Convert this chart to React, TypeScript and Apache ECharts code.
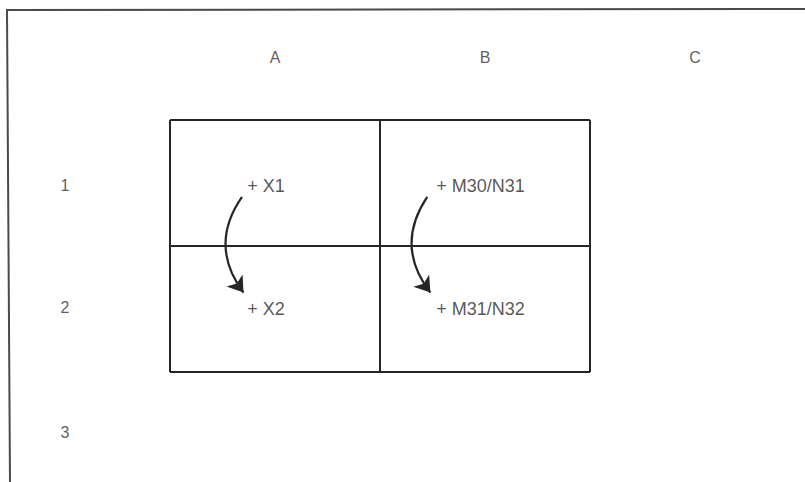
import React, { useEffect, useRef } from "react";
import * as echarts from "echarts";

// Column headers and row headers of the spreadsheet diagram
const columnLabels = ["A", "B", "C"];
const columnPositions = [0.5, 1.5, 2.5];
const rowLabels = ["1", "2", "3"];
const rowPositions = [0.52, 1.49, 2.48];

// Cell references written inside the grid: [label, x, y]
const cellLabels: [string, number, number][] = [
  ["+ X1", 0.368, 0.52],
  ["+ X2", 0.368, 1.5],
  ["+ M30/N31", 1.268, 0.52],
  ["+ M31/N32", 1.268, 1.5],
];

// Copy arrows: [startX, startY, endX, endY]
const arrows: [number, number, number, number][] = [
  [0.343, 0.61, 0.35, 1.37],
  [1.225, 0.61, 1.24, 1.37],
];

const INK = "#262626";
const FONT = "'Liberation Sans', Arial, Helvetica, sans-serif";

export default function App() {
  const ref = useRef<HTMLDivElement>(null);

  useEffect(() => {
    if (!ref.current) return;
    const chart = echarts.init(ref.current, null, { renderer: "svg" });

    const headerData = [
      ...columnLabels.map((l, i) => ({ name: l, value: [columnPositions[i], -0.5] })),
      ...rowLabels.map((l, i) => ({ name: l, value: [-0.5, rowPositions[i]] })),
    ];

    chart.setOption({
      animation: false,
      backgroundColor: "#ffffff",
      grid: { left: 170, top: 120, width: 420, height: 252, containLabel: false },
      xAxis: {
        type: "value",
        min: 0,
        max: 2,
        interval: 1,
        axisLine: { show: false },
        axisTick: { show: false },
        axisLabel: { show: false },
        splitLine: { show: true, lineStyle: { color: INK, width: 2 } },
      },
      yAxis: {
        type: "value",
        inverse: true,
        min: 0,
        max: 2,
        interval: 1,
        axisLine: { show: false },
        axisTick: { show: false },
        axisLabel: { show: false },
        splitLine: { show: true, lineStyle: { color: INK, width: 2 } },
      },
      graphic: [
        {
          type: "polyline",
          shape: { points: [[805, 9], [7, 10], [10, 482]] },
          style: { stroke: "#4a4a4a", lineWidth: 2, fill: "none" },
          silent: true,
        },
      ],
      series: [
        {
          type: "scatter",
          clip: false,
          symbolSize: 0,
          data: headerData,
          label: {
            show: true,
            position: "inside",
            formatter: "{b}",
            color: "#333333",
            fontFamily: FONT,
            fontSize: 16,
            align: "center",
            verticalAlign: "middle",
          },
          silent: true,
        },
        {
          type: "scatter",
          clip: false,
          symbolSize: 0,
          data: cellLabels.map(([l, x, y]) => ({ name: l, value: [x, y] })),
          label: {
            show: true,
            position: "inside",
            formatter: "{b}",
            color: "#2b2b2b",
            fontFamily: FONT,
            fontSize: 18,
            align: "left",
            verticalAlign: "middle",
          },
          silent: true,
        },
        {
          type: "lines",
          coordinateSystem: "cartesian2d",
          symbol: ["none", "arrow"],
          symbolSize: [10, 15],
          lineStyle: { color: INK, width: 2.2, curveness: -0.36, opacity: 1 },
          data: arrows.map(([x1, y1, x2, y2]) => ({ coords: [[x1, y1], [x2, y2]] })),
          silent: true,
        },
      ],
    });

    return () => chart.dispose();
  }, []);

  return (
    <div
      ref={ref}
      style={{ position: "fixed", left: 0, top: 0, width: 805, height: 482, background: "#fff" }}
    />
  );
}
